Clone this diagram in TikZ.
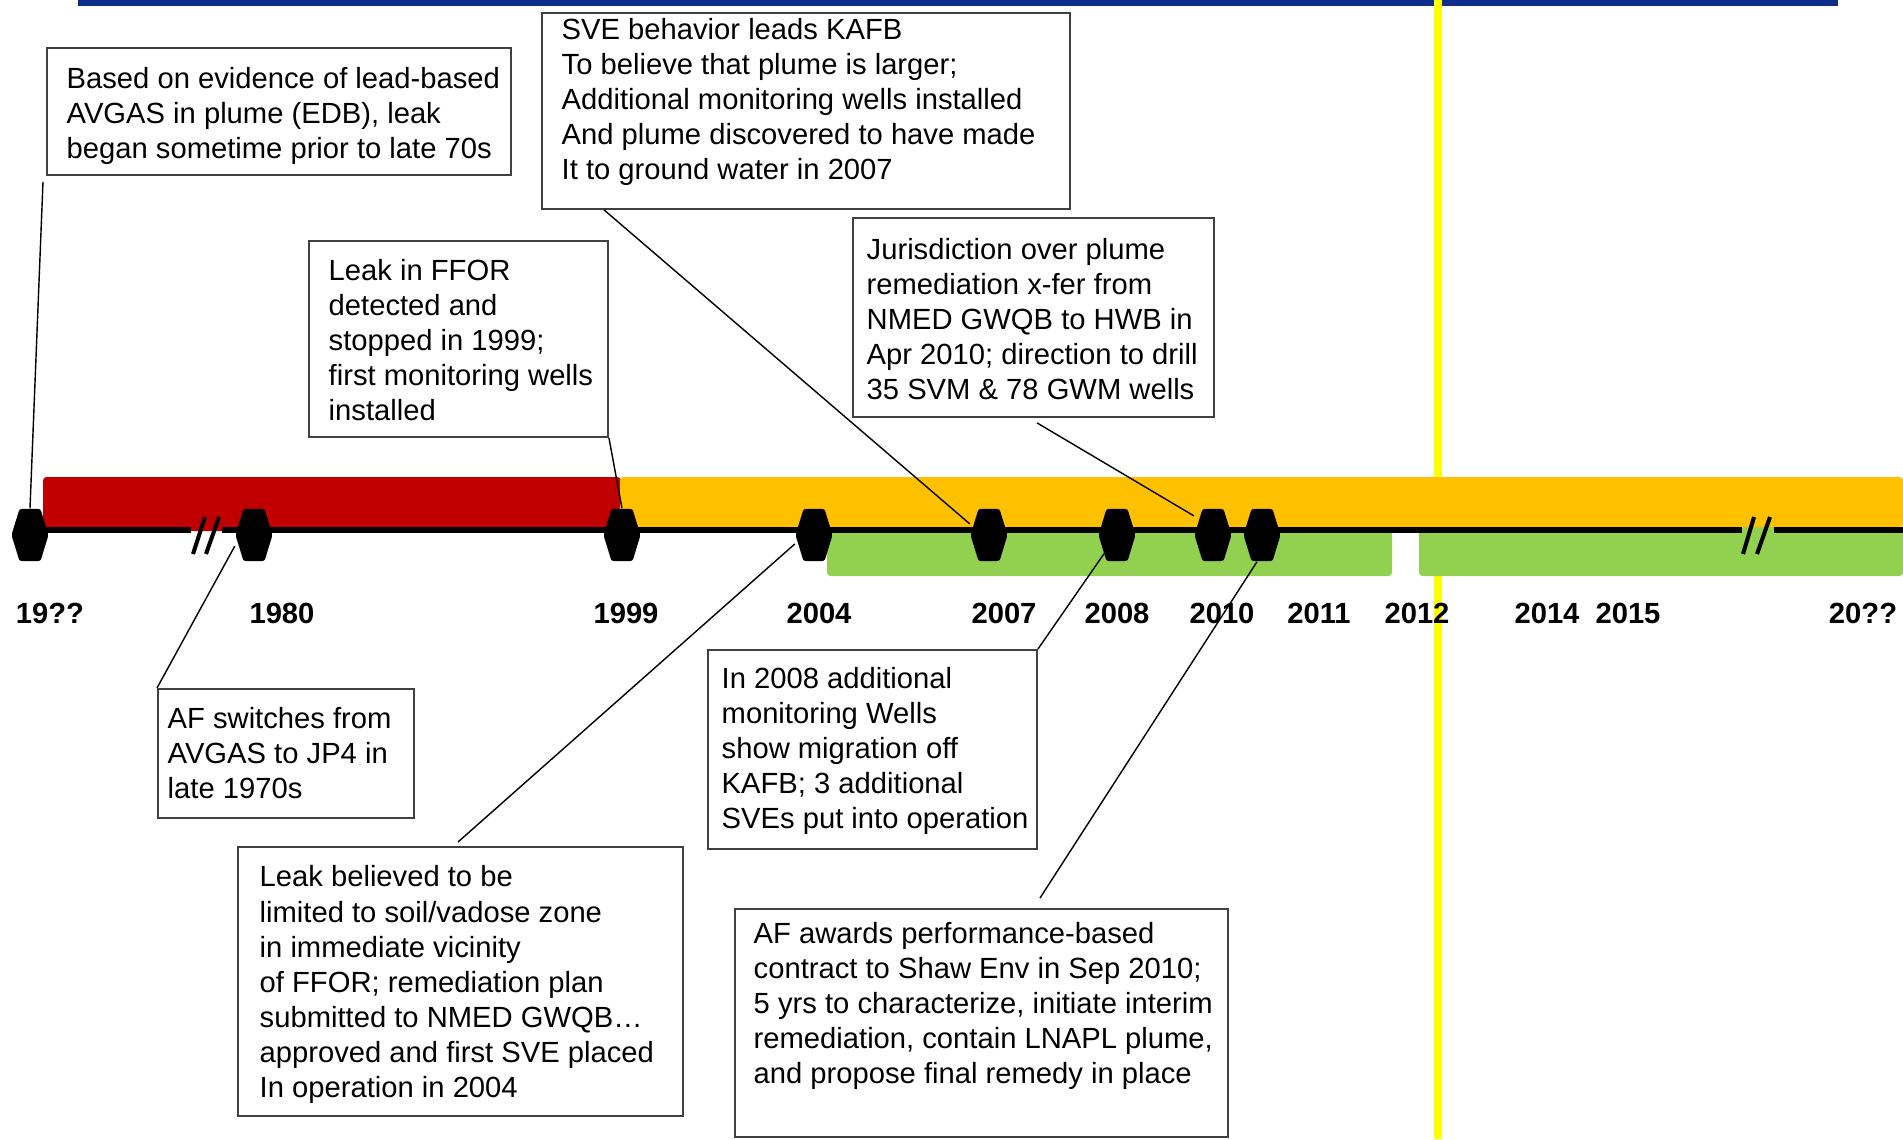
\documentclass[tikz,border=0pt]{standalone}
\usepackage{fontspec}
\setmainfont{Liberation Sans}
\definecolor{kred}{HTML}{C00000}
\definecolor{korange}{HTML}{FFC000}
\definecolor{kgreen}{HTML}{92D050}
\definecolor{knavy}{HTML}{0E2D8A}
\definecolor{kyellow}{HTML}{FFFF00}
\newcommand{\evfont}{\fontsize{8.3}{9.96}\selectfont}
\newcommand{\yrfont}{\fontsize{8.3}{9.96}\selectfont\bfseries}
\tikzset{evbox/.style={draw=black!75, line width=0.5pt, inner sep=0pt, anchor=north west}}
\tikzset{evtxt/.style={anchor=west, align=left, inner sep=0pt, font=\evfont}}
\tikzset{yr/.style={font=\yrfont, inner sep=0pt}}
\tikzset{lnk/.style={line width=0.4pt}}
\tikzset{brk/.style={line width=1.15pt}}
\tikzset{hexa/.style={minimum width=0.37cm, minimum height=0.52cm, inner sep=0pt,
    path picture={\fill[black, rounded corners=0.6pt] (path picture bounding box.north)
      ++(-0.105cm,0) -- ++(0.21cm,0) -- ++(0.08cm,-0.26cm) -- ++(-0.08cm,-0.26cm)
      -- ++(-0.21cm,0) -- ++(-0.08cm,0.26cm) -- cycle;}}}

\begin{document}
\begin{tikzpicture}[x=0.01cm, y=-0.01cm]
\useasboundingbox (0,0) rectangle (1903,1139);
\fill[knavy] (78,0) rectangle (1838,6);
\fill[kyellow] (1434,0) rectangle (1442,1139);

		\fill[kred, rounded corners=1pt] (43,477) rectangle (621,531);
		\fill[korange, rounded corners=1pt] (620,477) rectangle (1903,528);
		\fill[kgreen, rounded corners=1pt] (827,527) rectangle (1392,576);
		\fill[kgreen, rounded corners=1pt] (1419,527) rectangle (1903,576);

		\draw[line width=1.7pt] (30,529.5) -- (191,529.5);
		\draw[line width=1.7pt] (222,529.5) -- (1742,529.5);
		\draw[line width=1.7pt] (1774,529.5) -- (1903,529.5);
		\draw[brk] (193,554) -- (205,517);
		\draw[brk] (206,554) -- (219,517);
		\draw[brk] (1743,554) -- (1754,517);
		\draw[brk] (1757,554) -- (1770,517);

\foreach \n/\x in {h19/30, h80/254, h99/622, h04/814, h07/989, h08/1117, h10a/1213, h10b/1262}
  \node[hexa] (\n) at (\x,535) {};

\foreach \t/\x in {19??/50, 1980/282, 1999/626, 2004/819, 2007/1004, 2008/1117, 2010/1222, 2011/1319, 2012/1417, 2014/1547, 2015/1628, 20??/1863}
  \node[yr] (y\x) at (\x,613) {\t};

		\node[evbox, minimum width=4.64cm, minimum height=1.27cm] (lead) at (46,47) {};
		\node[evtxt] (leadtxt) at (66,115.5) {Based on evidence of lead-based\\ AVGAS in plume (EDB), leak\\ began sometime prior to late 70s};

		\node[evbox, minimum width=5.28cm, minimum height=1.96cm] (sve) at (541,12) {};
		\node[evtxt] (svetxt) at (561,101.5) {SVE behavior leads KAFB\\ To believe that plume is larger;\\ Additional monitoring wells installed\\ And plume discovered to have made\\ It to ground water in 2007};

		\node[evbox, minimum width=2.99cm, minimum height=1.96cm] (ffor) at (308,240) {};
		\node[evtxt] (ffortxt) at (328,340.5) {Leak in FFOR\\ detected and\\ stopped in 1999;\\ first monitoring wells\\ installed};

		\node[evbox, minimum width=3.61cm, minimum height=1.99cm] (juris) at (852,217) {};
		\node[evtxt] (juristxt) at (866,319.5) {Jurisdiction over plume\\ remediation x-fer from\\ NMED GWQB to HWB in\\ Apr 2010; direction to drill\\ 35 SVM \& 78 GWM wells};

		\node[evbox, minimum width=2.56cm, minimum height=1.29cm] (jp4) at (157,688) {};
		\node[evtxt] (jp4txt) at (167,753) {AF switches from\\ AVGAS to JP4 in\\ late 1970s};

		\node[evbox, minimum width=4.45cm, minimum height=2.69cm] (soil) at (237,846) {};
		\node[evtxt] (soiltxt) at (259,984.5) {Leak believed to be\\ limited to soil/vadose zone\\ in immediate vicinity\\ of FFOR; remediation plan\\ submitted to NMED GWQB…\\ approved and first SVE placed\\ In operation in 2004};

		\node[evbox, minimum width=3.29cm, minimum height=1.99cm] (mig) at (707,649) {};
		\node[evtxt] (migtxt) at (721,750.5) {In 2008 additional\\ monitoring Wells\\ show migration off\\ KAFB; 3 additional\\ SVEs put into operation};

		\node[evbox, minimum width=4.93cm, minimum height=2.28cm] (shaw) at (734,908) {};
		\node[evtxt] (shawtxt) at (753,1005.5) {AF awards performance-based\\ contract to Shaw Env in Sep 2010;\\ 5 yrs to characterize, initiate interim\\ remediation, contain LNAPL plume,\\ and propose final remedy in place};

		% callouts
		\draw[lnk] ([shift={(-3,6)}]lead.south west) -- (h19.north);
		\draw[lnk] ([shift={(63,0)}]sve.south west) -- (h07.150);
		\draw[lnk] (ffor.south east) -- (h99.north);
		\draw[lnk] ([shift={(185,5)}]juris.south west) -- (h10a.135);
		\draw[lnk] (jp4.north west) -- (h80.210);
		\draw[lnk] ([shift={(221,-4)}]soil.north west) -- (h04.205);
		\draw[lnk] (mig.north east) -- (h08.center);
		\draw[lnk] ([shift={(306,-10)}]shaw.north west) -- ([shift={(-5,0)}]h10b.south);
\end{tikzpicture}
\end{document}
